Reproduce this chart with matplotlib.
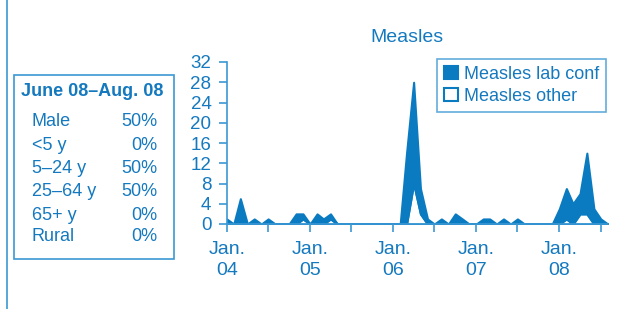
import matplotlib
matplotlib.use("Agg")
import matplotlib.pyplot as plt
import pandas as pd
from matplotlib.patches import Rectangle
from matplotlib.lines import Line2D

plt.rcParams['font.family'] = ['Liberation Sans', 'DejaVu Sans']

# monthly counts, Jan 2004 .. Aug 2008
months = pd.date_range('2004-01-01', periods=56, freq='MS')
total = [1, 0, 5, 0, 1, 0, 1, 0, 0, 0, 2, 2,
         0, 2, 1, 2, 0, 0, 0, 0, 0, 0, 0, 0,
         0, 0, 14, 28, 7, 1, 0, 1, 0, 2, 1, 0,
         0, 1, 1, 0, 1, 0, 1, 0, 0, 0, 0, 0,
         3, 7, 4, 6, 14, 3, 1, 0]
other = [0, 0, 0, 0, 0, 0, 0, 0, 0, 0, 0, 1,
         0, 0, 0, 1, 0, 0, 0, 0, 0, 0, 0, 0,
         0, 0, 0, 8, 2, 0, 0, 0, 0, 0, 0, 0,
         0, 0, 0, 0, 0, 0, 0, 0, 0, 0, 0, 0,
         0, 1, 0, 2, 2, 0, 0, 0]
lab_conf = [t - o for t, o in zip(total, other)]

box_title = 'June 08\u2013Aug. 08'
box_labels = ['Male', '<5 y', '5\u201324 y', '25\u201364 y', '65+ y', 'Rural']
box_values = ['50%', '0%', '50%', '50%', '0%', '0%']

blue = '#0a7bc1'
line_blue = '#3b98d4'
text_blue = '#1479bf'

W, H = 620, 309
fig = plt.figure(figsize=(W / 100, H / 100), dpi=100)

def fx(px):
    return px / W

def fy(py):
    return 1 - py / H

ax = fig.add_axes([fx(226.7), fy(224), fx(607.8) - fx(226.7), fy(62) - fy(224)])
ax.stackplot(months, other, lab_conf, colors=['white', blue],
             labels=['Measles other', 'Measles lab conf'],
             edgecolor=blue, linewidth=1.5)
ax.set_xlim(months[0], months[-1])
ax.set_ylim(0, 32)
ax.set_yticks(range(0, 33, 4))

ticks = pd.date_range('2004-01-01', '2008-07-01', freq='6MS')
ax.set_xticks(ticks)
ax.set_xticklabels(['Jan.\n%02d' % (d.year % 100) if d.month == 1 else '' for d in ticks])
for t in ax.get_xticklabels():
    t.set_linespacing(1.35)

for s in ['top', 'right']:
    ax.spines[s].set_visible(False)
for s in ['left', 'bottom']:
    ax.spines[s].set_color(line_blue)
    ax.spines[s].set_linewidth(1.2)
ax.tick_params(colors=line_blue, labelcolor=text_blue, length=6, width=1.2)
ax.tick_params(axis='x', pad=6, labelsize=14)
ax.tick_params(axis='y', pad=5, labelsize=13.5)

fig.text(fx(407), fy(38), 'Measles', ha='center', va='center',
         fontsize=14, color=text_blue)

h, l = ax.get_legend_handles_labels()
leg = ax.legend(h[::-1], l[::-1], loc='upper right',
                bbox_to_anchor=(fx(606), fy(59.3)), bbox_transform=fig.transFigure,
                borderaxespad=0, fancybox=False, fontsize=13,
                handlelength=0.75, handleheight=0.75, handletextpad=0.35,
                labelspacing=0.25, borderpad=0.38)
leg.get_frame().set_edgecolor(line_blue)
leg.get_frame().set_linewidth(1.2)
for t in leg.get_texts():
    t.set_color(text_blue)

# summary box on the left
fig.add_artist(Rectangle((fx(14), fy(258.5)), fx(174) - fx(14), fy(75) - fy(258.5),
                         transform=fig.transFigure, fill=False,
                         edgecolor=line_blue, linewidth=1.2))
fig.text(fx(92.3), fy(91.7), box_title, ha='center', va='center',
         fontsize=13, fontweight='bold', color=text_blue)
row_y = [121.7, 145, 168.3, 191.7, 215, 236.7]
for lab, val, py in zip(box_labels, box_values, row_y):
    fig.text(fx(31.7), fy(py), lab, ha='left', va='center', fontsize=13, color=text_blue)
    fig.text(fx(157), fy(py), val, ha='right', va='center', fontsize=13, color=text_blue)

fig.add_artist(Line2D([fx(6.5), fx(6.5)], [0, 1], color=line_blue, linewidth=1.2))

fig.savefig('out.png', dpi=100)
